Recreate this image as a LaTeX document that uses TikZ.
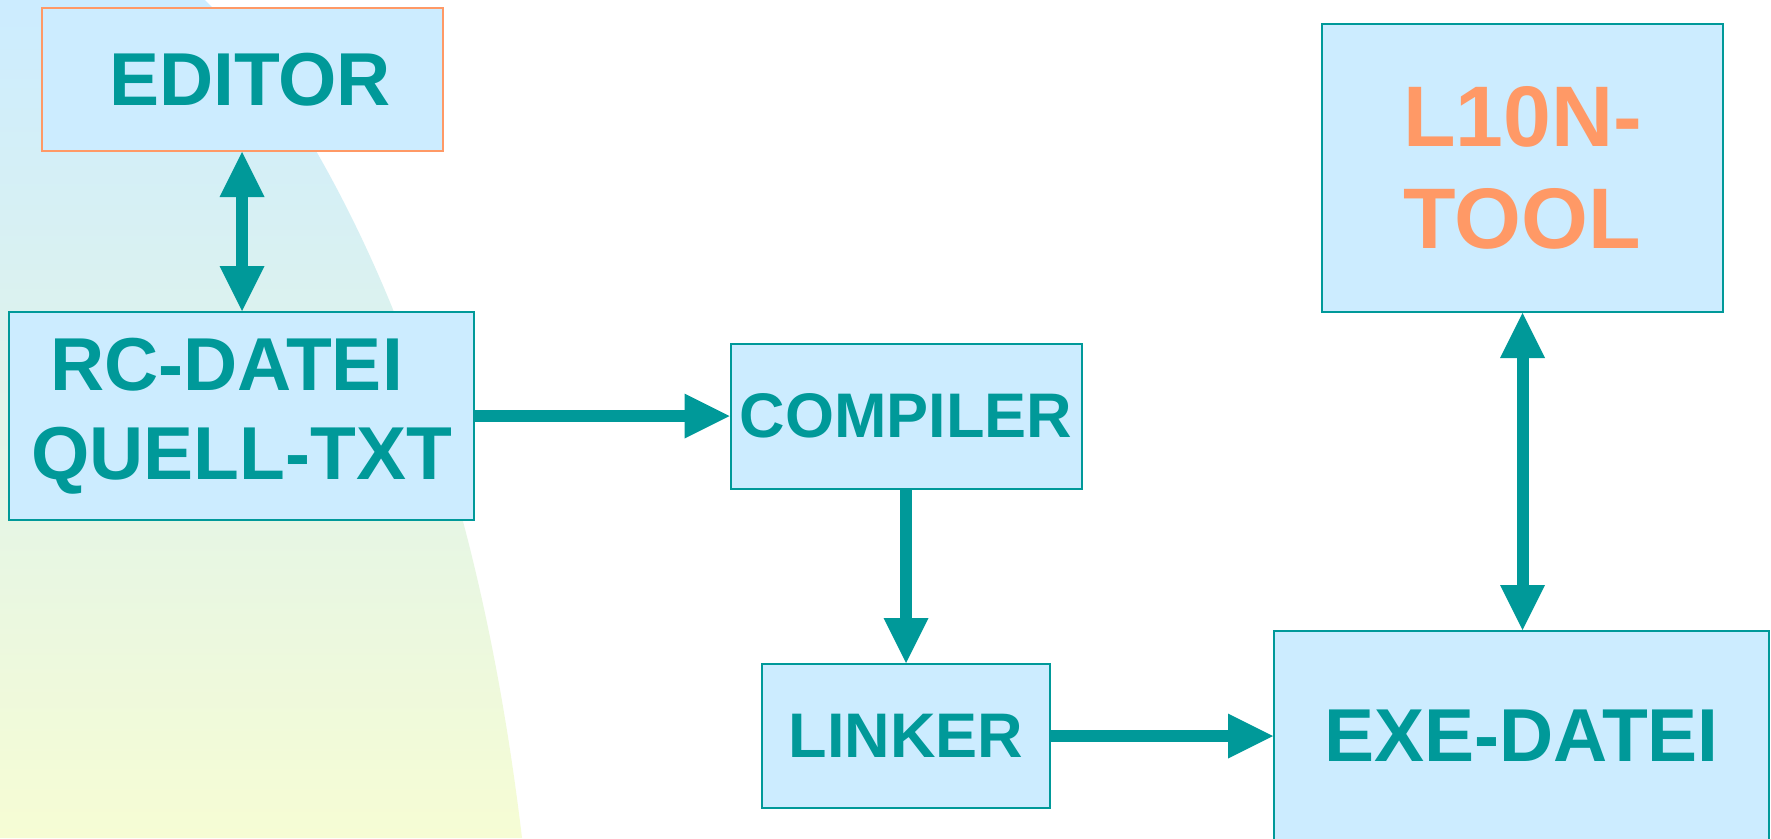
\documentclass[tikz,border=0pt]{standalone}
\usepackage{fontspec}
\setmainfont{Liberation Sans}
\usetikzlibrary{arrows.meta}
\definecolor{teal}{HTML}{009999}
\definecolor{boxfill}{HTML}{CCECFF}
\definecolor{orangec}{HTML}{FF9966}
\definecolor{bgtop}{HTML}{CCECFF}
\definecolor{bgbot}{HTML}{F6FCD4}
\begin{document}
\begin{tikzpicture}[x=1pt,y=-1pt,
  box/.style={draw=teal, line width=2pt, fill=boxfill, rectangle, inner sep=0pt,
    text=teal, align=center, font=\fontsize{75}{89}\selectfont\bfseries},
  conn/.style={draw=teal, line width=12pt,
    arrows={-Triangle[length=45pt,width=45pt,line width=0pt]}},
  dconn/.style={draw=teal, line width=12pt,
    arrows={Triangle[length=45pt,width=45pt,line width=0pt]-Triangle[length=45pt,width=45pt,line width=0pt]}}]
\useasboundingbox (0,0) rectangle (1771,838);
\fill[white] (0,0) rectangle (1771,838);
\shade[top color=bgtop, bottom color=bgbot]
  (0,0) -- (205,0) .. controls (285,80) and (352,208) .. (394,312)
  .. controls (464,487) and (501,663) .. (522,838) -- (0,838) -- cycle;

\node[box, draw=orangec, minimum width=401pt, minimum height=143pt] (editor) at (242,79.5) {\hspace*{16pt}EDITOR};
\node[box, minimum width=465pt, minimum height=208pt] (rc) at (241.5,416) {RC-DATEI\hspace*{30pt}\\QUELL-TXT};
\node[box, font=\fontsize{63}{75}\selectfont\bfseries, minimum width=351pt, minimum height=145pt] (compiler) at (906,416) {COMPILER};
\node[box, font=\fontsize{63}{75}\selectfont\bfseries, minimum width=288pt, minimum height=144pt] (linker) at (906,736) {LINKER};
\node[box, minimum width=495pt, minimum height=210pt] (exe) at (1521.5,736) {EXE-DATEI};
\node[box, text=orangec, font=\fontsize{86}{102}\selectfont\bfseries, minimum width=401pt, minimum height=288pt] (l10n) at (1522.5,168) {L10N-\\TOOL};

\draw[dconn] (editor.south) -- (editor.south |- rc.north);
\draw[conn] (rc.east) -- (compiler.west);
\draw[conn] (compiler.south) -- (linker.north);
\draw[conn] (linker.east) -- (exe.west);
\draw[dconn] (l10n.south) -- (l10n.south |- exe.north);
\end{tikzpicture}
\end{document}
